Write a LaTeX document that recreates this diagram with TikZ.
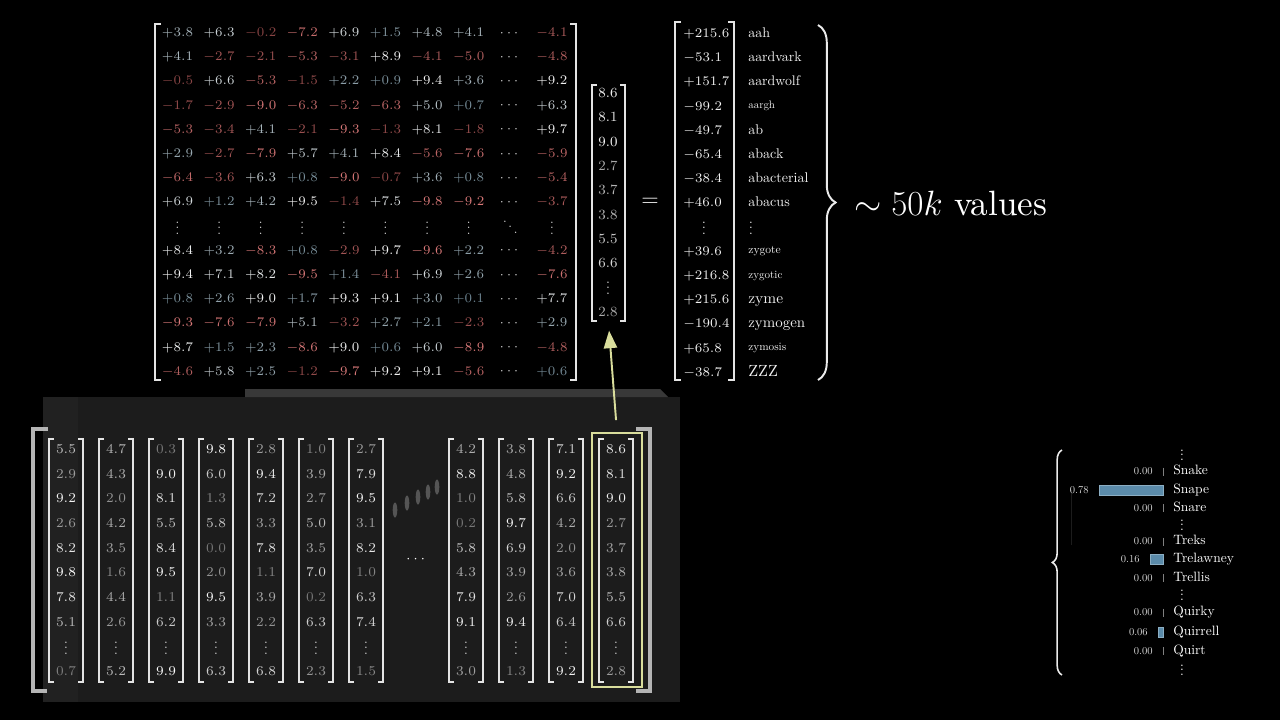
\RequirePackage{fix-cm}
\documentclass[tikz,border=0pt]{standalone}
\usepackage{amsmath}
\usepackage{fontspec}
\setmainfont{lmroman10-regular}[Extension=.otf]
\usepackage{tikz}
\usetikzlibrary{arrows.meta, positioning, decorations.pathreplacing}
\definecolor{wPosLo}{HTML}{4E6B7A}
\definecolor{wPosHi}{HTML}{F2F2F2}
\definecolor{wNegLo}{HTML}{763838}
\definecolor{wNegHi}{HTML}{D87878}
\definecolor{vecLo}{HTML}{8A8A8A}
\definecolor{vecHi}{HTML}{FFFFFF}
\definecolor{embLo}{HTML}{767676}
\definecolor{selYellow}{HTML}{D9DD9C}
\definecolor{barBlue}{HTML}{5B8BAA}
\definecolor{panelGray}{HTML}{1C1C1C}
\definecolor{panelEdge}{HTML}{212121}
\definecolor{stripGray}{HTML}{383838}
\definecolor{brkWhite}{HTML}{E4E4E4}
\definecolor{brkGray}{HTML}{B4B4B4}
\definecolor{ghostGray}{HTML}{555555}

% weight entry: sign and colour follow the value
\newcommand{\wentry}[1]{%
  \pgfmathtruncatemacro{\wpct}{min(100,18+abs(#1)*9)}%
  \ifdim #1pt<0pt \textcolor{wNegHi!\wpct!wNegLo}{$#1$}%
  \else \textcolor{wPosHi!\wpct!wPosLo}{$+#1$}\fi}
% vector entry: brighter for larger values
\newcommand{\ventry}[2]{%
  \pgfmathtruncatemacro{\vpct}{min(100,#2*10)}%
  \textcolor{vecHi!\vpct!#1}{$#2$}}
% three stacked dots, gap given
\newcommand{\stackdots}[1]{\vbox{\baselineskip#1\lineskiplimit0pt\hbox{.}\hbox{.}\hbox{.}}}
% pair of square brackets: [style]{x left}{x right}{y top}{y bottom}{hook}
\newcommand{\brackets}[6][brk]{%
  \draw[#1] (#2+#6,#4) -- (#2,#4) -- (#2,#5) -- (#2+#6,#5);
  \draw[#1] (#3-#6,#4) -- (#3,#4) -- (#3,#5) -- (#3-#6,#5);}

\begin{document}
\begin{tikzpicture}[
  x=0.02cm, y=-0.02cm,
  wnum/.style={font=\fontsize{7.5}{8}\selectfont, inner sep=0pt},
  vnum/.style={font=\fontsize{8}{9}\selectfont, inner sep=0pt},
  bnum/.style={font=\fontsize{7.7}{9}\selectfont, inner sep=0pt},
  rnum/.style={font=\fontsize{7.5}{8}\selectfont, text=wPosHi, anchor=base west, inner sep=0pt},
  dotsv/.style={text=white!85!black, inner sep=0pt},
  brk/.style={line width=0.85pt, draw=brkWhite},
  outerbrk/.style={line width=2.3pt, draw=brkGray},
  selbox/.style={draw=selYellow, line width=0.85pt, minimum width=28.5pt,
    minimum height=144.5pt, inner sep=0pt},
  arr/.style={-{Triangle[length=10pt, width=7.5pt]}, line width=1.1pt, color=selYellow},
  pword/.style={font=\fontsize{7.7}{9}\selectfont, text=white, anchor=west,
    inner sep=0pt, text height=5.4pt, text depth=1.5pt},
  pnum/.style={font=\fontsize{6}{7}\selectfont, text=white!85!black,
    anchor=east, inner sep=0pt},
  tickmark/.style={draw=gray, line width=0.5pt},
  ghost/.style={fill=ghostGray},
]
\fill[black] (0,0) rectangle (1280,720);
\useasboundingbox (0,0) rectangle (1280,720);

% Embedding panel
\fill[panelGray] (43,397) rectangle (680,702);
\fill[panelEdge] (43,397) rectangle (78,702);
\fill[stripGray] (245,389) -- (660,389) -- (668,397) -- (245,397) -- cycle;

% Unembedding matrix
\foreach \row [count=\di] in {
  {3.8,6.3,-0.2,-7.2,6.9,1.5,4.8,4.1,-4.1},
  {4.1,-2.7,-2.1,-5.3,-3.1,8.9,-4.1,-5.0,-4.8},
  {-0.5,6.6,-5.3,-1.5,2.2,0.9,9.4,3.6,9.2},
  {-1.7,-2.9,-9.0,-6.3,-5.2,-6.3,5.0,0.7,6.3},
  {-5.3,-3.4,4.1,-2.1,-9.3,-1.3,8.1,-1.8,9.7},
  {2.9,-2.7,-7.9,5.7,4.1,8.4,-5.6,-7.6,-5.9},
  {-6.4,-3.6,6.3,0.8,-9.0,-0.7,3.6,0.8,-5.4},
  {6.9,1.2,4.2,9.5,-1.4,7.5,-9.8,-9.2,-3.7},
  {8.4,3.2,-8.3,0.8,-2.9,9.7,-9.6,2.2,-4.2},
  {9.4,7.1,8.2,-9.5,1.4,-4.1,6.9,2.6,-7.6},
  {0.8,2.6,9.0,1.7,9.3,9.1,3.0,0.1,7.7},
  {-9.3,-7.6,-7.9,5.1,-3.2,2.7,2.1,-2.3,2.9},
  {8.7,1.5,2.3,-8.6,9.0,0.6,6.0,-8.9,-4.8},
  {-4.6,5.8,2.5,-1.2,-9.7,9.2,9.1,-5.6,0.6}} {
  \pgfmathtruncatemacro{\rowi}{\di+(\di>8)}
  \foreach \v [count=\ci] in \row {
    \pgfmathtruncatemacro{\coli}{\ci+(\ci>8)}
    \node[wnum] (w-\rowi-\coli) at ({177.5+41.6*(\coli-1)},{33+24.2*(\rowi-1)}) {\wentry{\v}};
  }
  \node[wnum, text=white!80!black] (w-\rowi-9) at (510.3,{33+24.2*(\rowi-1)}) {$\cdots$};
}
\foreach \coli in {1,...,8,10}
  \node[wnum, dotsv] (w-9-\coli) at ({177.5+41.6*(\coli-1)},228) {\stackdots{3.2pt}};
\node[wnum, dotsv, text height=9pt, text depth=0pt] (w-9-9) at (510.3,227) {$\ddots$};
\brackets{155}{576}{24}{380}{6}

% Last vector
\foreach \v [count=\k] in {8.6,8.1,9.0,2.7,3.7,3.8,5.5,6.6,2.8} {
  \pgfmathtruncatemacro{\ki}{\k+(\k>8)}
  \node[vnum] (v-\ki) at (608,{93+24.3*(\ki-1)}) {\ventry{vecLo}{\v}};
}
\node[vnum, dotsv] (v-9) at (608,288) {\stackdots{3.2pt}};
\brackets{592}{625}{85}{321}{5}

\node[font=\fontsize{13}{14}\selectfont, text=white] (eq) at (650,202) {$=$};

% Logits and vocabulary
\foreach \val/\lab/\fs/\off [count=\di] in {+215.6/aah/8/4.5, -53.1/aardvark/7.9/4.5,
    +151.7/aardwolf/7.9/4.5, -99.2/aargh/6.2/3, -49.7/ab/8/4.5, -65.4/aback/8/4.5,
    -38.4/abacterial/8/4.5, +46.0/abacus/8/4.5, +39.6/zygote/6.6/3,
    +216.8/zygotic/6.3/3, +215.6/zyme/8.8/4.5, -190.4/zymogen/8.5/4.5,
    +65.8/zymosis/6.4/3, -38.7/ZZZ/9.2/4.5} {
  \pgfmathtruncatemacro{\rowi}{\di+(\di>8)}
  \node[rnum] (r-\rowi) at (683,{37.5+24.2*(\rowi-1)}) {$\val$};
  \node[rnum, font=\fontsize{\fs}{10}\selectfont] (t-\rowi) at (748,{33+\off+24.2*(\rowi-1)}) {\lab};
}
\node[wnum, dotsv, text=white] (r-9) at (704,228) {\stackdots{3.2pt}};
\node[wnum, dotsv, text=white] (t-9) at (751,228) {\stackdots{3.2pt}};
\brackets{675}{734}{22}{380}{6}

\draw[decorate, decoration={brace, amplitude=10pt}, line width=1.1pt, draw=white!92!black]
  (818,25) -- (818,380);
\node[font=\fontsize{20}{22}\selectfont, text=white, anchor=west] (count) at (848,203)
  {$\sim 50k$ values};

% Embedding columns
\foreach \col [count=\ii] in {
  {5.5,2.9,9.2,2.6,8.2,9.8,7.8,5.1,0.7},
  {4.7,4.3,2.0,4.2,3.5,1.6,4.4,2.6,5.2},
  {0.3,9.0,8.1,5.5,8.4,9.5,1.1,6.2,9.9},
  {9.8,6.0,1.3,5.8,0.0,2.0,9.5,3.3,6.3},
  {2.8,9.4,7.2,3.3,7.8,1.1,3.9,2.2,6.8},
  {1.0,3.9,2.7,5.0,3.5,7.0,0.2,6.3,2.3},
  {2.7,7.9,9.5,3.1,8.2,1.0,6.3,7.4,1.5},
  {4.2,8.8,1.0,0.2,5.8,4.3,7.9,9.1,3.0},
  {3.8,4.8,5.8,9.7,6.9,3.9,2.6,9.4,1.3},
  {7.1,9.2,6.6,4.2,2.0,3.6,7.0,6.4,9.2},
  {8.6,8.1,9.0,2.7,3.7,3.8,5.5,6.6,2.8}} {
  \pgfmathsetmacro{\ex}{66+50*(\ii-1)+50*(\ii>7)}
  \foreach \v [count=\k] in \col {
    \pgfmathtruncatemacro{\ki}{\k+(\k>8)}
    \node[bnum] (e-\ii-\ki) at (\ex,{449+24.7*(\ki-1)}) {\ventry{embLo}{\v}};
  }
  \node[bnum, dotsv] (e-\ii-9) at (\ex,648) {\stackdots{3.2pt}};
  \brackets{\ex-17}{\ex+17}{439}{682}{5}
}
\node[bnum, text=white] (edots) at (417,559) {$\cdots$};
\foreach \gx/\gy in {395/510, 407/503, 418/497, 428/492, 437/487}
  \fill[ghost] (\gx,\gy) ellipse [x radius=2.3, y radius=7.5];
\draw[outerbrk] (48,429) -- (33,429) -- (33,691) -- (47,691);
\draw[outerbrk] (636,429) -- (650,429) -- (650,691) -- (636,691);

% Selected column
\node[selbox] (sel) at (617,560) {};
\draw[arr, shorten <=7pt, shorten >=8pt] (sel.north) -- (v-10.south);

% Probabilities
\draw[decorate, decoration={brace, amplitude=5.5pt}, line width=0.9pt, draw=white!92!black]
  (1062,675) -- (1062,450);
\draw[panelGray, line width=0.5pt] (1071,490) -- (1071,545);
\foreach \p/\w/\yy in {0.00/Snake/471.5, 0.78/Snape/490, 0.00/Snare/508,
    0.00/Treks/541.5, 0.16/Trelawney/559.5, 0.00/Trellis/578,
    0.00/Quirky/612.5, 0.06/Quirrell/632, 0.00/Quirt/651} {
  \node[pword] (p-\w) at (1173,\yy) {\w};
  \ifdim \p pt>0pt
    \fill[barBlue, draw=barBlue!70!white, line width=0.3pt] ({1163-82*\p},\yy-5) rectangle (1163,\yy+5);
  \else
    \draw[tickmark] (1163,\yy-4) -- (1163,\yy+4);
  \fi
  \node[pnum] (q-\w) at ({1153-82*\p},\yy) {\p};
}
\foreach \yy [count=\k] in {455,525,595,670}
  \node[dotsv, font=\fontsize{7.7}{9}\selectfont, text=white] (pd-\k) at (1182,\yy) {\stackdots{2.6pt}};

\end{tikzpicture}
\end{document}
